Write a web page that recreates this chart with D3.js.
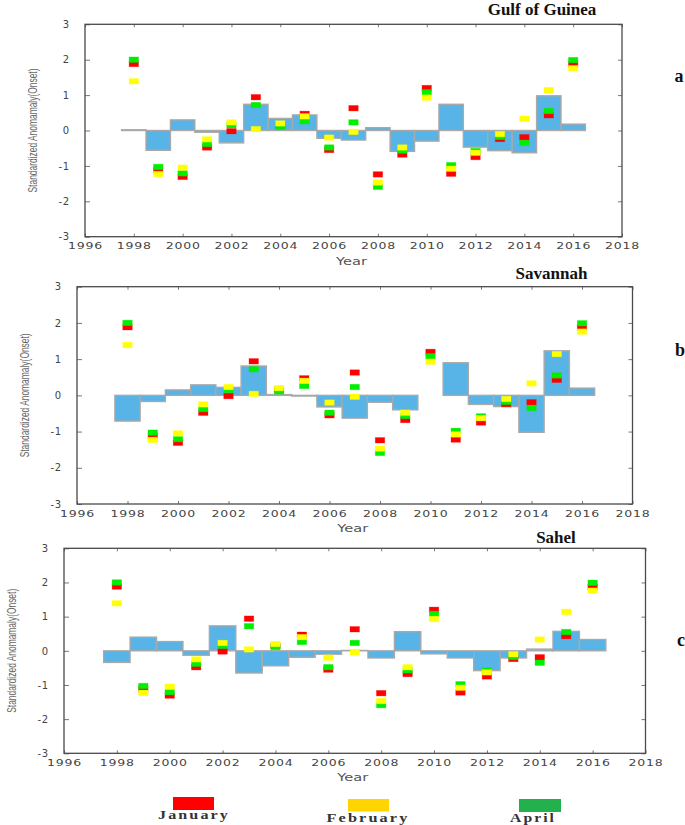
<!DOCTYPE html>
<html>
<head>
<meta charset="utf-8">
<script src="https://cdn.jsdelivr.net/npm/d3@7"></script>
<style>
  html, body { margin: 0; padding: 0; background: #fff; }
  svg { display: block; }
</style>
</head>
<body>
<svg id="chart" width="685" height="825"></svg>
<script>
// ---------------- DATA ----------------
const years = [1998, 1999, 2000, 2001, 2002, 2003, 2004, 2005, 2006, 2007,
               2008, 2009, 2010, 2011, 2012, 2013, 2014, 2015, 2016];
const xTicks = [1996, 1998, 2000, 2002, 2004, 2006, 2008, 2010, 2012, 2014, 2016, 2018];
const yTicks = [-3, -2, -1, 0, 1, 2, 3];

// index markers (same in every panel)
const january  = [1.88, -1.12, -1.31, -0.48, -0.02, 0.94, 0.15, 0.47, -0.55, 0.63,
                  -1.24, -0.68, 1.20, -1.22, -0.75, -0.24, -0.19, 0.43, 1.87];
const february = [1.39, -1.23, -1.05, -0.25, 0.23, 0.04, 0.20, 0.40, -0.20, -0.04,
                  -1.47, -0.48, 0.93, -1.08, -0.63, -0.10, 0.33, 1.14, 1.76];
const april    = [2.00, -1.03, -1.21, -0.38, 0.15, 0.72, 0.11, 0.26, -0.48, 0.23,
                  -1.59, -0.57, 1.08, -0.98, -0.58, -0.18, -0.35, 0.55, 1.99];

// onset anomaly bars per zone
const gulfOnset  = [0.02, -0.56, 0.30, -0.05, -0.35, 0.74, 0.34, 0.44, -0.22, -0.27,
                    0.08, -0.59, -0.30, 0.74, -0.47, -0.57, -0.63, 0.98, 0.18];
const savOnset   = [-0.71, -0.17, 0.15, 0.29, 0.22, 0.81, 0.02, -0.02, -0.32, -0.63,
                    -0.19, -0.40, 0.00, 0.90, -0.25, -0.31, -1.02, 1.23, 0.20];
const sahelOnset = [-0.34, 0.40, 0.27, -0.13, 0.73, -0.65, -0.44, -0.19, -0.10, 0.01,
                    -0.21, 0.56, -0.09, -0.21, -0.58, -0.21, 0.05, 0.57, 0.33];

const zoneNames  = ["Gulf of Guinea", "Savannah", "Sahel"];
const panelTags  = ["a", "b", "c"];
const legendLabels = ["January", "February", "April"];

// ---------------- LAYOUT ----------------
const panels = [
  { bars: gulfOnset,  left: 85,  right: 622,   top: 24.3,  bottom: 236.7,
    title: [542, 14.5], tag: [679, 81.7] },
  { bars: savOnset,   left: 77,  right: 632.5, top: 286.7, bottom: 504,
    title: [551.5, 279], tag: [680, 356] },
  { bars: sahelOnset, left: 64,  right: 645.5, top: 548.3, bottom: 753.3,
    title: [556, 543], tag: [681, 646] }
];

const markerColors = { jan: "#ff0000", apr: "#00ee00", feb: "#ffff00" };
const barFill = "#58b3e6", barStroke = "#a9a9a9";
const frameColor = "#4a4a4a", textColor = "#444";

const svg = d3.select("#chart");
svg.append("rect").attr("width", 685).attr("height", 825).attr("fill", "#fff");

panels.forEach((p, i) => {
  const x = d3.scaleLinear().domain([1996, 2018]).range([p.left, p.right]);
  const y = d3.scaleLinear().domain([-3, 3]).range([p.bottom, p.top]);
  const g = svg.append("g");
  const yearW = x(1) - x(0);

  // bars (step bars centred on each year)
  g.selectAll("rect.bar").data(years).join("rect")
    .attr("class", "bar")
    .attr("x", (d) => x(d - 0.5))
    .attr("width", yearW)
    .attr("y", (d, k) => Math.min(y(p.bars[k]), y(0)))
    .attr("height", (d, k) => Math.abs(y(p.bars[k]) - y(0)))
    .attr("fill", barFill)
    .attr("stroke", barStroke)
    .attr("stroke-width", 1.4);

  // markers: red first, then green, then yellow
  const mW = 9.5, mH = 5.5;
  [[january, markerColors.jan], [april, markerColors.apr], [february, markerColors.feb]]
    .forEach(([vals, col]) => {
      g.selectAll(null).data(years).join("rect")
        .attr("x", (d) => x(d) - mW / 2)
        .attr("y", (d, k) => y(vals[k]) - mH / 2)
        .attr("width", mW).attr("height", mH)
        .attr("fill", col)
        .attr("stroke", col).attr("stroke-opacity", 0.35).attr("stroke-width", 0.8);
    });

  // axes with inward ticks
  const ax = g.append("g").attr("transform", `translate(0,${p.bottom})`)
    .call(d3.axisBottom(x).tickValues(xTicks).tickFormat((d) => String(d))
      .tickSizeInner(-3).tickSizeOuter(0).tickPadding(6));
  const axT = g.append("g").attr("transform", `translate(0,${p.top})`)
    .call(d3.axisTop(x).tickValues(xTicks).tickFormat("").tickSizeInner(-3).tickSizeOuter(0));
  const ay = g.append("g").attr("transform", `translate(${p.left},0)`)
    .call(d3.axisLeft(y).tickValues(yTicks).tickFormat((d) => String(d))
      .tickSizeInner(-5).tickSizeOuter(0).tickPadding(15));
  const ayR = g.append("g").attr("transform", `translate(${p.right},0)`)
    .call(d3.axisRight(y).tickValues(yTicks).tickFormat("").tickSizeInner(-4).tickSizeOuter(0));
  [ax, axT, ay, ayR].forEach((a) => {
    a.select(".domain").remove();
    a.selectAll(".tick line").attr("stroke", "#777").attr("stroke-width", 1);
  });
  ax.selectAll("text")
    .attr("font-family", "DejaVu Sans").attr("font-size", 9.5).attr("fill", textColor)
    .attr("letter-spacing", 0.6)
    .attr("textLength", 35).attr("lengthAdjust", "spacingAndGlyphs");
  ay.selectAll("text")
    .attr("font-family", "DejaVu Sans").attr("font-size", 10).attr("fill", textColor)
    .attr("letter-spacing", 0.8);

  // frame
  g.append("rect")
    .attr("x", p.left).attr("y", p.top)
    .attr("width", p.right - p.left).attr("height", p.bottom - p.top)
    .attr("fill", "none").attr("stroke", frameColor).attr("stroke-width", 1.3);

  // axis titles
  g.append("text")
    .attr("x", (p.left + p.right) / 2 - 2).attr("y", p.bottom + 28)
    .attr("text-anchor", "middle")
    .attr("font-family", "DejaVu Sans").attr("font-size", 11).attr("fill", "#555")
    .attr("textLength", 31).attr("lengthAdjust", "spacingAndGlyphs")
    .text("Year");
  const yc = (p.top + p.bottom) / 2;
  const lx = p.left - 48;
  g.append("text")
    .attr("transform", `translate(${lx},${yc}) rotate(-90)`)
    .attr("text-anchor", "middle")
    .attr("font-family", "Liberation Sans").attr("font-size", 12.5).attr("fill", "#666")
    .attr("textLength", 124).attr("lengthAdjust", "spacingAndGlyphs")
    .text("Standardized Anomamaly(Onset)");

  // zone title and panel tag
  g.append("text")
    .attr("x", p.title[0]).attr("y", p.title[1])
    .attr("text-anchor", "middle")
    .attr("font-family", "Liberation Serif").attr("font-weight", "bold")
    .attr("font-size", 17).attr("fill", "#111")
    .text(zoneNames[i]);
  g.append("text")
    .attr("x", p.tag[0]).attr("y", p.tag[1])
    .attr("text-anchor", "middle")
    .attr("font-family", "Liberation Serif").attr("font-weight", "bold")
    .attr("font-size", 18).attr("fill", "#111")
    .text(panelTags[i]);
});

// ---------------- LEGEND ----------------
const legendColors = ["#ff0000", "#ffd400", "#22b14c"];
const legendBoxes = [[173, 797, 41, 13], [348, 799, 41, 12.5], [519, 799, 42, 13]];
const legendText  = [[194, 819, 72], [368, 822, 83], [533, 822, 46]];
const lg = svg.append("g");
lg.selectAll("rect").data(legendLabels).join("rect")
  .attr("x", (d, k) => legendBoxes[k][0]).attr("y", (d, k) => legendBoxes[k][1])
  .attr("width", (d, k) => legendBoxes[k][2]).attr("height", (d, k) => legendBoxes[k][3])
  .attr("fill", (d, k) => legendColors[k]);
lg.selectAll("text").data(legendLabels).join("text")
  .attr("x", (d, k) => legendText[k][0]).attr("y", (d, k) => legendText[k][1])
  .attr("text-anchor", "middle")
  .attr("font-family", "Liberation Serif").attr("font-weight", "bold")
  .attr("font-size", 11.5).attr("fill", "#333")
  .attr("letter-spacing", 1.5)
  .attr("textLength", (d, k) => legendText[k][2]).attr("lengthAdjust", "spacingAndGlyphs")
  .text((d) => d);
</script>
</body>
</html>
